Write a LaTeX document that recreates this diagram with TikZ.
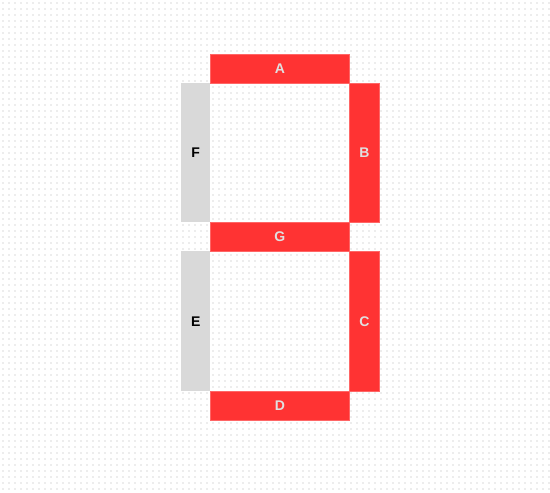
\documentclass[tikz,border=0pt]{standalone}
\usepackage{fontspec}
\setmainfont{Liberation Sans}
\definecolor{segon}{HTML}{FF3333}
\definecolor{segedge}{HTML}{FF6666}
\definecolor{segoff}{HTML}{D9D9D9}
\definecolor{labon}{HTML}{E0E0E0}
\definecolor{dotc}{HTML}{EDEDED}
\tikzset{
  seg/.style={minimum width=#1, inner sep=0pt, font=\bfseries\fontsize{14}{16}\selectfont, anchor=north west},
  segonbox/.style={fill=segon, draw=segedge, line width=0.8pt, text=labon},
  segoffbox/.style={fill=segoff, draw=none, text=black},
}
\begin{document}
\begin{tikzpicture}[x=1pt,y=-1pt]
\useasboundingbox (0,0) rectangle (550,493);
\fill[white] (0,0) rectangle (550,493);
\foreach \yy in {3,9,...,493} {
  \draw[dotc, line width=2pt, dash pattern=on 2pt off 4pt] (2,\yy) -- (550,\yy);
}
\node[seg, segonbox, minimum width=139pt, minimum height=29pt] (A) at (210,54) {A};
\node[seg, segoffbox, minimum width=29pt, minimum height=139pt] (F) at (181,83) {F};
\node[seg, segonbox, minimum width=30pt, minimum height=139pt] (B) at (349,83) {B};
\node[seg, segonbox, minimum width=139pt, minimum height=29pt] (G) at (210,222) {G};
\node[seg, segoffbox, minimum width=29pt, minimum height=140pt] (E) at (181,251) {E};
\node[seg, segonbox, minimum width=30pt, minimum height=140pt] (C) at (349,251) {C};
\node[seg, segonbox, minimum width=139pt, minimum height=29pt] (D) at (210,391) {D};
\end{tikzpicture}
\end{document}
